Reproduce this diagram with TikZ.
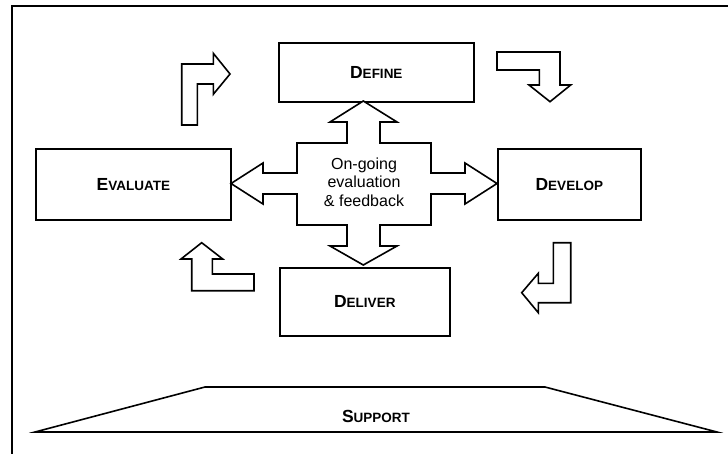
\documentclass[tikz,border=0pt]{standalone}
\usepackage{fontspec}
\setmainfont{Liberation Sans}
\newcommand{\capsmall}[2]{{\bfseries\fontsize{17.5}{18}\selectfont #1\fontsize{13.5}{18}\selectfont #2}}
\begin{document}
\begin{tikzpicture}[x=1pt,y=-1pt,
  outline/.style={draw=black,line width=1.6pt,line join=miter},
  stage/.style={outline,rectangle,inner sep=0pt,anchor=north west},
  blockarrow/.style={outline,fill=white}]
\useasboundingbox (0,0) rectangle (728,453);
% outer frame (runs past the page on the right and below)
\draw[line width=1.8pt] (12,470) -- (12,6) -- (745,6);

% stage boxes
\node[stage,minimum width=195pt,minimum height=59pt] (define) at (278,42) {};
\node at (define.center) {\capsmall{D}{EFINE}};
\node[stage,minimum width=143pt,minimum height=71pt] (develop) at (497,148) {};
\node at (develop.center) {\capsmall{D}{EVELOP}};
\node[stage,minimum width=195pt,minimum height=71pt] (evaluate) at (35,148) {};
\node at (evaluate.center) {\capsmall{E}{VALUATE}};
\node[stage,minimum width=170pt,minimum height=68pt] (deliver) at (279,267) {};
\node at (deliver.center) {\capsmall{D}{ELIVER}};

% support base
\draw[outline] (35,432) -- (205,387) -- (545,387) -- (717,432) -- cycle;
\node (support) at (376,416) {\capsmall{S}{UPPORT}};

% central four-way arrow
\draw[blockarrow] (363.3,101) -- (397,122) -- (380,122) -- (380,143) -- (431,143)
  -- (431,173) -- (465,173) -- (465,163) -- (497,183.5) -- (465,204) -- (465,194)
  -- (431,194) -- (431,225) -- (380,225) -- (380,246) -- (397,246) -- (363.3,265)
  -- (330,246) -- (347,246) -- (347,225) -- (297,225) -- (297,194) -- (263,194)
  -- (263,204) -- (231,183.5) -- (263,163) -- (263,173) -- (297,173) -- (297,143)
  -- (347,143) -- (347,122) -- (330,122) -- cycle;
\node[align=center,font=\fontsize{16}{18.5}\selectfont] (feedback) at (364,182)
  {On-going\\evaluation\\\& feedback};

% cycle arrows between the stages
\draw[blockarrow] (181.7,125) -- (181.7,64) -- (213.3,64) -- (213.3,53.3) -- (230,74)
  -- (213.3,94.3) -- (213.3,84) -- (197.3,84) -- (197.3,125) -- cycle;
\draw[blockarrow] (497,52) -- (560,52) -- (560,85) -- (570.7,85) -- (550,101.7)
  -- (529,85) -- (539.3,85) -- (539.3,70) -- (497,70) -- cycle;
\draw[blockarrow] (553.3,242.7) -- (570.7,242.7) -- (570.7,302.7) -- (538.3,302.7)
  -- (538.3,312.7) -- (521.7,292.7) -- (538.3,273.3) -- (538.3,283.3) -- (553.3,283.3) -- cycle;
\draw[blockarrow] (201.7,242.7) -- (222.7,259) -- (212.3,259) -- (212.3,274) -- (254,274)
  -- (254,290.7) -- (191.7,290.7) -- (191.7,259) -- (181,259) -- cycle;
\end{tikzpicture}
\end{document}
